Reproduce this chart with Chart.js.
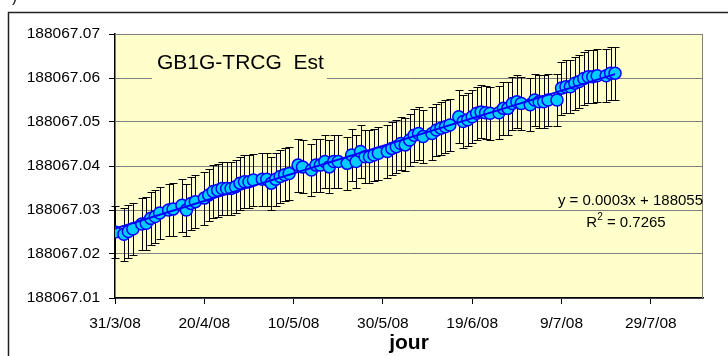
<!DOCTYPE html>
<html lang="fr">
<head>
<meta charset="UTF-8">
<title>GB1G-TRCG Est</title>
<script src="https://cdn.jsdelivr.net/npm/chart.js"></script>
<style>
  body { margin: 0; background: #fff; }
</style>
</head>
<body>
<canvas id="chart" width="728" height="356"></canvas>
<script>
// jours depuis le 31/3/08
const days = [0, 2, 3, 4, 6, 7, 8, 9, 10, 12, 13, 15, 16, 17, 18, 20, 21, 22, 23, 24,
  25, 26, 27, 28, 29, 30, 31, 33, 34, 35, 36, 37, 38, 39, 41, 42, 44, 45, 46, 47,
  48, 49, 50, 52, 53, 54, 55, 56, 57, 58, 59, 61, 62, 63, 64, 65, 66, 67, 68, 69,
  71, 72, 73, 74, 75, 77, 78, 79, 80, 81, 82, 83, 84, 86, 87, 88, 89, 90, 91, 93,
  94, 95, 96, 97, 99, 100, 101, 102, 103, 104, 105, 106, 107, 108, 110, 111, 112];

const values = [188067.0250, 188067.0245, 188067.0251, 188067.0257, 188067.0268, 188067.0270,
  188067.0281, 188067.0285, 188067.0293, 188067.0300, 188067.0302, 188067.0311, 188067.0300,
  188067.0315, 188067.0319, 188067.0327, 188067.0334, 188067.0342, 188067.0345, 188067.0349,
  188067.0349, 188067.0349, 188067.0353, 188067.0361, 188067.0364, 188067.0364, 188067.0368,
  188067.0370, 188067.0370, 188067.0361, 188067.0370, 188067.0376, 188067.0380, 188067.0383,
  188067.0402, 188067.0398, 188067.0391, 188067.0402, 188067.0402, 188067.0410, 188067.0398,
  188067.0410, 188067.0410, 188067.0406, 188067.0425, 188067.0410, 188067.0433, 188067.0421,
  188067.0421, 188067.0425, 188067.0429, 188067.0433, 188067.0440, 188067.0444, 188067.0451,
  188067.0448, 188067.0459, 188067.0470, 188067.0474, 188067.0467, 188067.0474, 188067.0482,
  188067.0486, 188067.0489, 188067.0493, 188067.0512, 188067.0501, 188067.0505, 188067.0512,
  188067.0520, 188067.0523, 188067.0521, 188067.0520, 188067.0521, 188067.0531, 188067.0531,
  188067.0542, 188067.0546, 188067.0542, 188067.0539, 188067.0550, 188067.0546, 188067.0546,
  188067.0550, 188067.0550, 188067.0577, 188067.0580, 188067.0580, 188067.0588, 188067.0592,
  188067.0599, 188067.0603, 188067.0603, 188067.0605, 188067.0605, 188067.0611, 188067.0611];

const errBar = 0.006;  // +/- barre d'erreur

const xTickDays = [0, 20, 40, 60, 80, 100, 120];
const xTickLabels = ['31/3/08', '20/4/08', '10/5/08', '30/5/08', '19/6/08', '9/7/08', '29/7/08'];

const titleText = 'GB1G-TRCG  Est';
const eqText = 'y = 0.0003x + 188055';
const r2Value = '0.7265';

// droite de tendance (moindres carrés)
const n = days.length;
const mx = days.reduce((a, b) => a + b, 0) / n;
const my = values.reduce((a, b) => a + b, 0) / n;
let sxy = 0, sxx = 0;
for (let i = 0; i < n; i++) {
  sxy += (days[i] - mx) * (values[i] - my);
  sxx += (days[i] - mx) * (days[i] - mx);
}
const slope = sxy / sxx;
const icpt = my - slope * mx;
const trendData = [days[0], days[n - 1]].map(d => ({ x: d, y: icpt + slope * d }));

const pts = days.map((d, i) => ({ x: d, y: values[i] }));

Chart.defaults.font.family = "'Liberation Sans', Arial, sans-serif";
Chart.defaults.color = '#000';

const decor = {
  id: 'decor',
  beforeDraw(chart) {
    const { ctx, chartArea: a } = chart;
    ctx.save();
    ctx.fillStyle = '#ffffcc';
    ctx.fillRect(a.left, a.top, a.right - a.left, a.bottom - a.top);
    // cadre extérieur
    ctx.strokeStyle = '#222';
    ctx.lineWidth = 1.5;
    ctx.strokeRect(8.5, 12.5, 800, 400);
    ctx.fillStyle = '#000';
    ctx.font = "15px 'Liberation Sans'";
    ctx.textBaseline = 'alphabetic';
    ctx.fillText(')', 12, 2);
    ctx.restore();
  },
  beforeDatasetsDraw(chart) {
    const { ctx, chartArea: a, scales } = chart;
    ctx.save();
    // bord du graphique
    ctx.strokeStyle = '#808080';
    ctx.lineWidth = 1;
    ctx.beginPath();
    ctx.moveTo(a.left, a.top + 0.5);
    ctx.lineTo(a.right - 0.5, a.top + 0.5);
    ctx.lineTo(a.right - 0.5, a.bottom);
    ctx.stroke();
    // cache du titre
    ctx.fillStyle = '#ffffcc';
    ctx.fillRect(a.left + 37, a.top + 10, 175, 38);
    ctx.fillStyle = '#000';
    ctx.font = "21px 'Liberation Sans'";
    ctx.textBaseline = 'middle';
    ctx.textAlign = 'left';
    ctx.fillText(titleText, a.left + 42, a.top + 29);
    // barres d'erreur
    ctx.strokeStyle = '#000';
    ctx.lineWidth = 1;
    ctx.beginPath();
    pts.forEach(p => {
      const x = Math.round(scales.x.getPixelForValue(p.x)) + 0.5;
      const y1 = Math.round(scales.y.getPixelForValue(p.y + errBar)) + 0.5;
      const y2 = Math.round(scales.y.getPixelForValue(p.y - errBar)) + 0.5;
      ctx.moveTo(x, y1); ctx.lineTo(x, y2);
      ctx.moveTo(x - 4, y1); ctx.lineTo(x + 4, y1);
      ctx.moveTo(x - 4, y2); ctx.lineTo(x + 4, y2);
    });
    ctx.stroke();
    ctx.restore();
  },
  afterDatasetsDraw(chart) {
    const { ctx, chartArea: a } = chart;
    ctx.save();
    ctx.fillStyle = '#000';
    ctx.font = "15px 'Liberation Sans'";
    ctx.textBaseline = 'middle';
    ctx.textAlign = 'right';
    ctx.fillText(eqText, a.right, a.top + 167);
    // R² = ...
    const cy = a.top + 189;
    const w1 = ctx.measureText('R').width;
    const rest = ' = ' + r2Value;
    const w3 = ctx.measureText(rest).width;
    ctx.font = "10px 'Liberation Sans'";
    const w2 = ctx.measureText('2').width;
    const x0 = a.right - 77 - (w1 + w2 + w3) / 2;
    ctx.textAlign = 'left';
    ctx.font = "15px 'Liberation Sans'";
    ctx.fillText('R', x0, cy);
    ctx.font = "10px 'Liberation Sans'";
    ctx.fillText('2', x0 + w1, cy - 6);
    ctx.font = "15px 'Liberation Sans'";
    ctx.fillText(rest, x0 + w1 + w2, cy);
    ctx.restore();
  }
};

new Chart(document.getElementById('chart'), {
  type: 'scatter',
  data: {
    datasets: [
      {
        label: 'tendance',
        type: 'line',
        data: trendData,
        borderColor: '#0000ff',
        borderWidth: 2,
        pointRadius: 0,
        fill: false,
        order: 0
      },
      {
        label: 'GB1G-TRCG Est',
        data: pts,
        backgroundColor: '#00ccff',
        borderColor: '#0000ff',
        borderWidth: 1.5,
        pointRadius: 6,
        order: 1
      }
    ]
  },
  options: {
    responsive: false,
    animation: false,
    layout: { padding: { left: 0, top: 34, right: 25, bottom: 0 } },
    plugins: {
      legend: { display: false },
      tooltip: { enabled: false }
    },
    scales: {
      x: {
        type: 'linear',
        min: 0,
        max: 131.7,
        afterFit(s) { s.height = 58; },
        afterBuildTicks(s) { s.ticks = xTickDays.map(v => ({ value: v })); },
        ticks: {
          font: { size: 15.5 },
          padding: 10,
          maxRotation: 0,
          autoSkip: false,
          callback(v) {
            const i = xTickDays.indexOf(v);
            return i >= 0 ? xTickLabels[i] : '';
          }
        },
        grid: { drawOnChartArea: false, tickLength: 6, tickColor: '#000' },
        border: { color: '#000', width: 1.5 },
        title: {
          display: true,
          text: 'jour',
          font: { size: 21, weight: 'bold' },
          padding: { top: 0, bottom: 0 }
        }
      },
      y: {
        min: 188067.01,
        max: 188067.07,
        afterFit(s) { s.width = 115; },
        ticks: {
          stepSize: 0.01,
          font: { size: 15.5 },
          padding: 9,
          callback: v => v.toFixed(2)
        },
        grid: { color: '#808080', tickLength: 6, tickColor: '#000' },
        border: { color: '#000', width: 1.5 }
      }
    }
  },
  plugins: [decor]
});
</script>
</body>
</html>
